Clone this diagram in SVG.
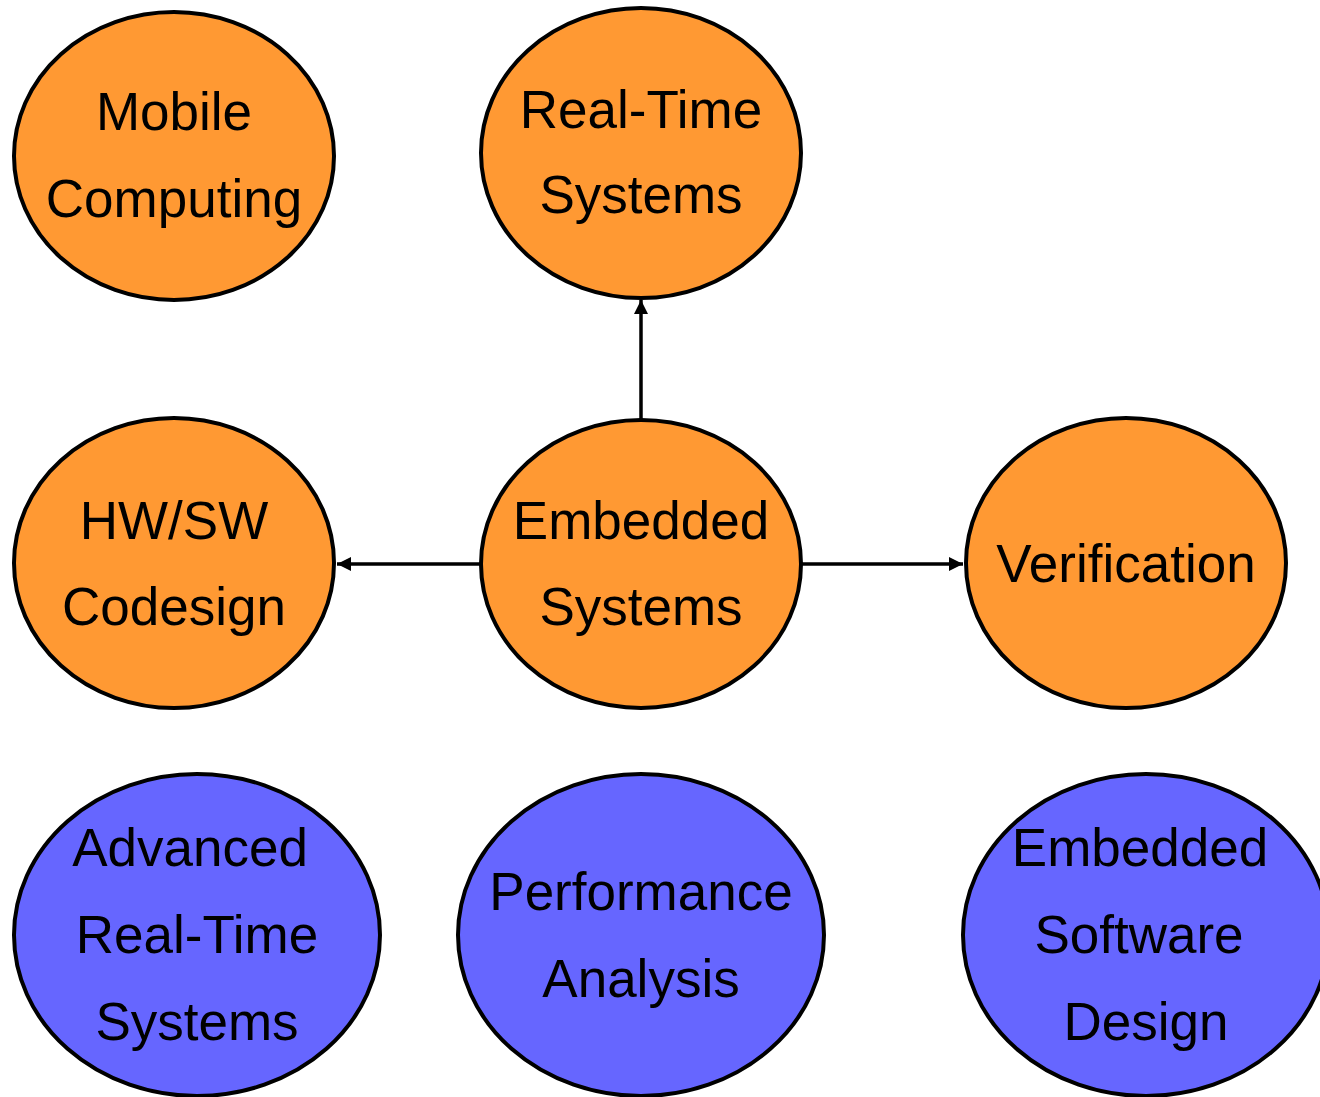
<svg xmlns="http://www.w3.org/2000/svg" width="1320" height="1097" viewBox="0 0 1320 1097">
<style>
.o{fill:#FF9933;stroke:#000;stroke-width:4}
.b{fill:#6666FF;stroke:#000;stroke-width:4}
text{font-family:"Liberation Sans",Arial,sans-serif;font-size:53px;fill:#000;text-anchor:middle}
.c{stroke:#000;stroke-width:3.5;fill:none}
</style>
<defs>
<marker id="ah" viewBox="0 0 10 10" refX="10" refY="5" markerWidth="4.5" markerHeight="4" markerUnits="strokeWidth" orient="auto">
<path d="M0,0 L10,5 L0,10 z" fill="#000"/>
</marker>
</defs>
<g id="connectors">
<line class="c" x1="641" y1="419" x2="641" y2="300" marker-end="url(#ah)"/>
<line class="c" x1="481" y1="564" x2="337" y2="564" marker-end="url(#ah)"/>
<line class="c" x1="802" y1="564" x2="963" y2="564" marker-end="url(#ah)"/>
</g>
<g id="mobile"><ellipse class="o" cx="174" cy="156" rx="160" ry="144"/><text x="174" y="130">Mobile</text><text x="174" y="217">Computing</text></g>
<g id="realtime"><ellipse class="o" cx="641" cy="153" rx="160" ry="145"/><text x="641" y="128">Real-Time</text><text x="641" y="213">Systems</text></g>
<g id="hwsw"><ellipse class="o" cx="174" cy="563" rx="160" ry="145"/><text x="174" y="539">HW/SW</text><text x="174" y="625">Codesign</text></g>
<g id="embedded"><ellipse class="o" cx="641" cy="564" rx="160" ry="144"/><text x="641" y="539">Embedded</text><text x="641" y="625">Systems</text></g>
<g id="verification"><ellipse class="o" cx="1126" cy="563" rx="160" ry="145"/><text x="1126" y="582">Verification</text></g>
<g id="advanced"><ellipse class="b" cx="197" cy="935" rx="183" ry="161"/><text x="190" y="866">Advanced</text><text x="197" y="953">Real-Time</text><text x="197" y="1040">Systems</text></g>
<g id="performance"><ellipse class="b" cx="641" cy="935" rx="183" ry="161"/><text x="641" y="910">Performance</text><text x="641" y="997">Analysis</text></g>
<g id="esd"><ellipse class="b" cx="1146" cy="935" rx="183" ry="161"/><text x="1140" y="866">Embedded</text><text x="1139" y="953">Software</text><text x="1146" y="1040">Design</text></g>
</svg>
